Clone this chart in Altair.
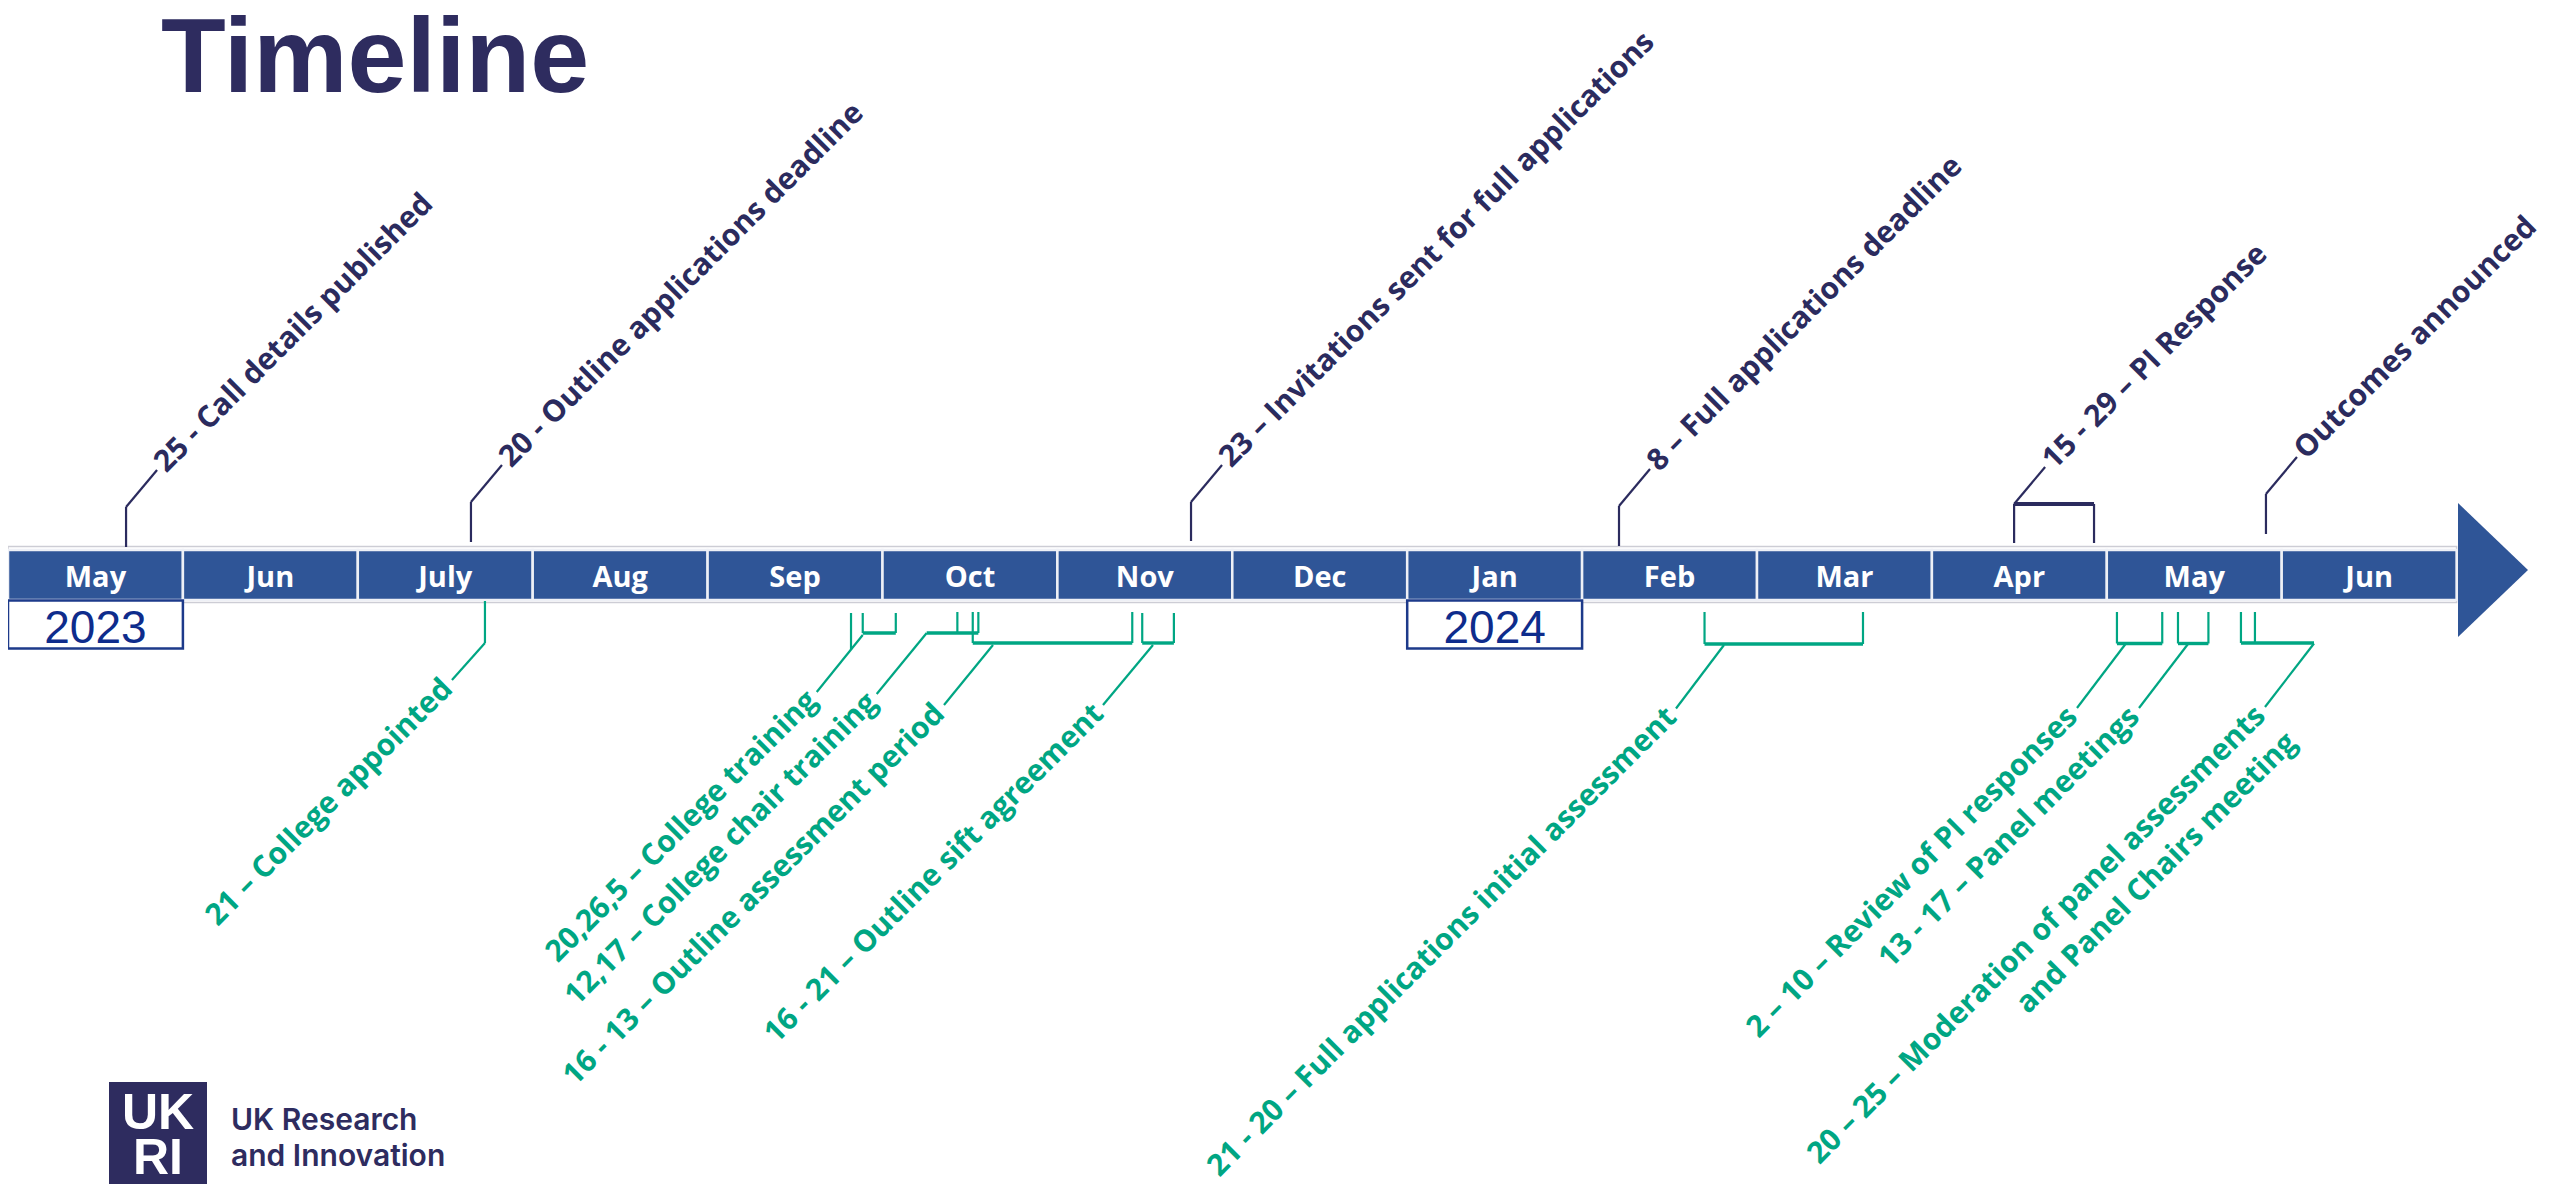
import altair as alt
import pandas as pd

# ---------------- data ----------------
months = ["May", "Jun", "July", "Aug", "Sep", "Oct", "Nov", "Dec",
          "Jan", "Feb", "Mar", "Apr", "May", "Jun"]
years = ["2023", "2024"]
year_month_index = [0, 8]

# upper (navy) milestones: position in months since 1 May 2023
upper_labels = ["25 - Call details published",
                "20 - Outline applications deadline",
                "23 \u2013 Invitations sent for full applications",
                "8 \u2013 Full applications deadline",
                "15 - 29 \u2013 PI Response",
                "Outcomes announced"]
upper_start = [0.675, 2.647, 6.764, 9.211, 11.470, 12.910]
upper_end = [0.675, 2.647, 6.764, 9.211, 11.927, 12.910]

# lower (green) activities
lower_labels = ["21 \u2013 College appointed",
                "20,26,5 \u2013 College training",
                "12,17 \u2013 College chair training",
                "16 - 13 \u2013 Outline assessment period",
                "16 - 21 \u2013 Outline sift agreement",
                "21 - 20 \u2013 Full applications initial assessment",
                "2 \u2013 10 \u2013 Review of PI responses",
                "13 - 17 \u2013 Panel meetings",
                "20 \u2013 25 \u2013 Moderation of panel assessments"]
lower_second_line = ["", "", "", "", "", "", "", "", "and Panel Chairs meeting"]
lower_dates = [[2.727], [4.820, 4.887, 5.076], [5.428, 5.548], [5.516, 6.428],
               [6.485, 6.666], [9.700, 10.606], [12.058, 12.317],
               [12.407, 12.581], [12.767, 12.847]]

# ---------------- style / layout ----------------
NAVY = "#2B2B5E"
GREEN = "#00A683"
BLUE = "#2F5597"
YEARC = "#0E2C8C"
MW = 174.9  # px per month
LABEL_SIZE = 30


def px2m(px):
    return (px - 8) / MW


xs = alt.Scale(domain=[0, 2544 / MW], nice=False, zero=False)
ys = alt.Scale(domain=[8, 1188], reverse=True, nice=False, zero=False)


def X(f):
    return alt.X(f, type="quantitative", scale=xs, axis=None)


def Y(f):
    return alt.Y(f, type="quantitative", scale=ys, axis=None)


def X2(f):
    return alt.X2(f)


def Y2(f):
    return alt.Y2(f)


# upper connectors
up_leg_bottom = [547, 542, 541, 546, 543, 534]
up_knee = [507, 502, 502, 506, 504, 494]
UP_DIAG = (31, -37)
up_thin, up_thick, up_text = [], [], []
for lab, s, e, yb, yk in zip(upper_labels, upper_start, upper_end, up_leg_bottom, up_knee):
    up_thin.append(dict(x=s, y=yb, x2=s, y2=yk))
    if e != s:
        up_thin.append(dict(x=e, y=yb, x2=e, y2=yk))
        up_thick.append(dict(x=s, y=yk, x2=e, y2=yk))
    tx, ty = s + UP_DIAG[0] / MW, yk + UP_DIAG[1]
    up_thin.append(dict(x=s, y=yk, x2=tx, y2=ty))
    up_text.append(dict(x=tx, y=ty, label=lab))

# lower connectors
lo_leg_top = [[601], [613, 613, 613], [612, 612], [612, 612], [613, 613],
              [612, 612], [612, 612], [612, 612], [612, 612]]
lo_leg_bottom = [[643], [650, 633, 633], [633, 633], [643, 643], [643, 643],
                 [644, 644], [643.5, 643.5], [643.5, 643.5], [643, 643]]
lo_hbar = [None, (4.887, 5.076), (px2m(926.7), 5.548), (5.516, 6.428),
           (6.485, 6.666), (9.700, 10.606), (12.058, 12.317),
           (12.407, 12.581), (12.767, px2m(2314))]
lo_hbar_y = [None, 633, 633, 643, 643, 644, 643.5, 643.5, 643]
lo_lead_start = [(2.727, 643), (4.887, 635), (px2m(926.7), 633), (px2m(993), 645),
                 (px2m(1153), 645), (px2m(1724), 645), (px2m(2125.5), 644),
                 (px2m(2188), 644), (px2m(2314), 643.5)]
lo_lead_vec = [(-33, 37), (-46, 57), (-50, 61), (-49, 60), (-50, 60),
               (-48, 63.5), (-48.5, 64), (-49, 64), (-49, 63.5)]

lo_thin, lo_thick, lo_text, lo_text2 = [], [], [], []
for i, lab in enumerate(lower_labels):
    for d, t, b in zip(lower_dates[i], lo_leg_top[i], lo_leg_bottom[i]):
        lo_thin.append(dict(x=d, y=t, x2=d, y2=b))
    if lo_hbar[i] is not None:
        lo_thick.append(dict(x=lo_hbar[i][0], y=lo_hbar_y[i], x2=lo_hbar[i][1], y2=lo_hbar_y[i]))
    sx, sy = lo_lead_start[i]
    ex, ey = sx + lo_lead_vec[i][0] / MW, sy + lo_lead_vec[i][1]
    lo_thin.append(dict(x=sx, y=sy, x2=ex, y2=ey))
    lo_text.append(dict(x=ex, y=ey, label=lab))
    if lower_second_line[i]:
        lo_text2.append(dict(x=ex, y=ey, label=lower_second_line[i]))

# bar
month_df = pd.DataFrame({"m": list(range(len(months))), "label": months})
month_df["m2"] = month_df["m"] + 1
month_df["mc"] = month_df["m"] + 0.5
month_df["y"] = 550
month_df["y2"] = 600
month_df["ty"] = 587

outline_df = pd.DataFrame([dict(x=0, x2=len(months), y=546.5, y2=602.5)])
arrow_df = pd.DataFrame([dict(x=px2m(2458), y=503, y2=637),
                         dict(x=px2m(2528), y=570, y2=570)])
year_df = pd.DataFrame({"m": year_month_index, "label": years})
year_df["m2"] = year_df["m"] + 1
year_df["mc"] = year_df["m"] + 0.5
year_df["y"] = 600.5
year_df["y2"] = 648.5
year_df["ty"] = 643

one = pd.DataFrame([{"a": 1}])


def seg_layer(rows, color, width):
    return alt.Chart(pd.DataFrame(rows)).mark_rule(color=color, strokeWidth=width).encode(
        x=X("x"), y=Y("y"), x2=X2("x2"), y2=Y2("y2"))


layers = []
layers.append(alt.Chart(outline_df).mark_rect(fill="white", stroke="#CDCDD5", strokeWidth=1.5).encode(
    x=X("x"), x2=X2("x2"), y=Y("y"), y2=Y2("y2")))
layers.append(alt.Chart(month_df).mark_rect(fill=BLUE, stroke="#EEF0F6", strokeWidth=2.5).encode(
    x=X("m"), x2=X2("m2"), y=Y("y"), y2=Y2("y2")))
layers.append(alt.Chart(month_df).mark_text(color="white", font="Open Sans", fontWeight="bold",
                                            fontSize=29, baseline="alphabetic").encode(
    x=X("mc"), y=Y("ty"), text="label:N"))
layers.append(alt.Chart(arrow_df).mark_area(color=BLUE, opacity=1).encode(
    x=X("x"), y=Y("y"), y2=Y2("y2")))
layers.append(alt.Chart(year_df).mark_rect(fill="white", stroke="#1D3A8A", strokeWidth=2.5).encode(
    x=X("m"), x2=X2("m2"), y=Y("y"), y2=Y2("y2")))
layers.append(alt.Chart(year_df).mark_text(color=YEARC, font="Liberation Sans", fontSize=46,
                                           baseline="alphabetic").encode(
    x=X("mc"), y=Y("ty"), text="label:N"))

layers.append(seg_layer(up_thin, NAVY, 2.2))
layers.append(seg_layer(up_thick, NAVY, 4))
layers.append(alt.Chart(pd.DataFrame(up_text)).mark_text(
    color=NAVY, font="Open Sans", fontWeight="bold", fontSize=LABEL_SIZE, angle=315,
    align="left", baseline="middle", dx=4).encode(x=X("x"), y=Y("y"), text="label:N"))

layers.append(seg_layer(lo_thin, GREEN, 2.2))
layers.append(seg_layer(lo_thick, GREEN, 3.4))
layers.append(alt.Chart(pd.DataFrame(lo_text)).mark_text(
    color=GREEN, font="Open Sans", fontWeight="bold", fontSize=LABEL_SIZE, angle=315,
    align="right", baseline="middle", dx=-6).encode(x=X("x"), y=Y("y"), text="label:N"))
layers.append(alt.Chart(pd.DataFrame(lo_text2)).mark_text(
    color=GREEN, font="Open Sans", fontWeight="bold", fontSize=LABEL_SIZE, angle=315,
    align="right", baseline="middle", dx=-3, dy=41).encode(x=X("x"), y=Y("y"), text="label:N"))

# title
layers.append(alt.Chart(one).mark_text(
    text="Timeline", color="#2E2C5F", font="Liberation Sans", fontWeight="bold",
    fontSize=106, align="left", baseline="alphabetic").encode(
    x=alt.value(153), y=alt.value(84)))

# logo
layers.append(alt.Chart(one).mark_rect(color="#2E2C5F").encode(
    x=alt.value(101), x2=alt.value(199), y=alt.value(1074), y2=alt.value(1176)))
layers.append(alt.Chart(one).mark_text(
    text="UK", color="white", font="Liberation Sans", fontWeight="bold", fontSize=50,
    align="center", baseline="alphabetic").encode(x=alt.value(150), y=alt.value(1121)))
layers.append(alt.Chart(one).mark_text(
    text="RI", color="white", font="Liberation Sans", fontWeight="bold", fontSize=50,
    align="center", baseline="alphabetic").encode(x=alt.value(150), y=alt.value(1166)))
layers.append(alt.Chart(one).mark_text(
    text="UK Research", color="#2E2C5F", font="Inter", fontWeight=600, fontSize=30,
    align="left", baseline="alphabetic").encode(x=alt.value(223), y=alt.value(1122)))
layers.append(alt.Chart(one).mark_text(
    text="and Innovation", color="#2E2C5F", font="Inter", fontWeight=600, fontSize=30,
    align="left", baseline="alphabetic").encode(x=alt.value(223), y=alt.value(1158)))

chart = alt.layer(*layers).properties(
    width=2544, height=1180, padding=0,
    autosize=alt.AutoSizeParams(type="none"),
    background="white",
).configure_view(stroke=None)

chart.save("out.html", embed_options={"renderer": "svg", "actions": False})
